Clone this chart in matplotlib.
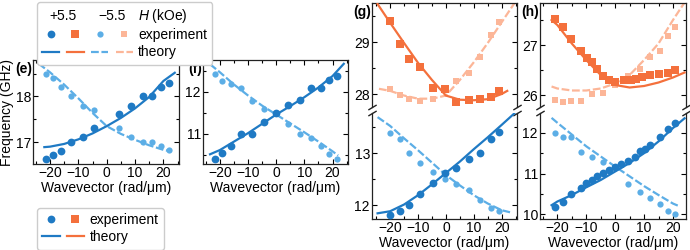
import matplotlib
matplotlib.use("Agg")
import matplotlib.pyplot as plt
from matplotlib.lines import Line2D
from matplotlib.text import Text
from matplotlib.legend_handler import HandlerBase, HandlerTuple
from matplotlib.ticker import MultipleLocator, AutoMinorLocator

plt.rcParams["font.family"] = ["Liberation Sans", "DejaVu Sans"]
plt.rcParams["mathtext.fontset"] = "custom"
plt.rcParams["mathtext.rm"] = "Liberation Sans"
plt.rcParams["mathtext.it"] = "Liberation Sans:italic"
plt.rcParams["font.size"] = 10

# colours
c_blue = "#1f7ac4"
c_lblue = "#5caee6"
c_orng = "#f4703c"
c_lorng = "#fcb698"

# ---- data ----
# panel (e)
e_k = [-21.5, -19.1, -16.1, -12.6, -8.5, -4.4, 4.4, 8.6, 12.7, 16.1, 19.2, 21.8]
e_pos = [16.63, 16.72, 16.81, 17.01, 17.12, 17.31, 17.61, 17.80, 18.00, 18.00, 18.20, 18.29]
e_neg = [18.50, 18.40, 18.20, 18.00, 17.80, 17.71, 17.31, 17.12, 17.01, 17.01, 16.92, 16.82]
e_th_k_pos = [-22, -20, -15, -10, -5, 0, 5, 10, 15, 20, 24]
e_th_pos = [16.89, 16.90, 16.96, 17.06, 17.19, 17.35, 17.53, 17.74, 17.99, 18.34, 18.52]
e_th_k_neg = [-24, -20, -15, -10, -5, 0, 5, 10, 15, 20, 22.5]
e_th_neg = [18.72, 18.53, 18.26, 17.96, 17.64, 17.35, 17.18, 17.05, 16.93, 16.83, 16.80]

# panel (f)
f_k = [-21.6, -19.1, -16.1, -12.6, -8.5, -4.2, 0, 4.2, 8.4, 12.5, 16.0, 18.9, 21.5]
f_pos = [10.42, 10.54, 10.72, 11.00, 11.00, 11.29, 11.50, 11.69, 11.80, 12.08, 12.08, 12.28, 12.38]
f_neg = [12.42, 12.26, 12.18, 12.08, 11.79, 11.59, 11.50, 11.23, 11.00, 10.91, 10.72, 10.52, 10.41]
f_th_k_pos = [-23.5, -20, -15, -10, -5, 0, 5, 10, 15, 20, 24]
f_th_pos = [10.52, 10.62, 10.82, 11.02, 11.24, 11.46, 11.66, 11.87, 12.10, 12.37, 12.66]
f_th_k_neg = [-23.5, -20, -15, -10, -5, 0, 5, 10, 15, 20, 22]
f_th_neg = [12.65, 12.46, 12.17, 11.91, 11.67, 11.46, 11.25, 11.04, 10.82, 10.59, 10.49]

# panel (g)
g_k = [-20, -16.5, -13.1, -9.3, -4.6, -0.3, 3.8, 8.3, 12.2, 16.0, 19.2]
g_pos_hi = [29.40, 28.97, 28.67, 28.51, 28.12, 28.09, 27.84, 27.88, 27.90, 27.94, 28.06]
g_neg_hi = [28.10, 27.99, 27.90, 27.86, 27.91, 28.12, 28.25, 28.41, 28.71, 29.13, 29.38]
g_pos_lo = [11.81, 11.88, 12.00, 12.21, 12.42, 12.61, 12.71, 12.90, 13.01, 13.27, 13.41]
g_neg_lo = [13.39, 13.27, 13.01, 12.82, 12.64, 12.51, 12.40, 12.30, 12.10, 11.95, 11.88]
g_th_k_pos_hi = [-24.5, -20, -15, -10, -5, 0, 5, 10, 15, 20, 22]
g_th_pos_hi = [29.73, 29.37, 28.98, 28.60, 28.27, 27.97, 27.89, 27.88, 27.90, 28.00, 28.06]
g_th_k_neg_hi = [-24, -20, -15, -10, -5, 0, 5, 10, 15, 20, 25]
g_th_neg_hi = [28.10, 28.06, 27.97, 27.91, 27.91, 27.97, 28.27, 28.61, 28.98, 29.38, 29.78]
g_th_k_pos_lo = [-24.5, -20, -15, -10, -5, 0, 5, 10, 15, 20, 24.5]
g_th_pos_lo = [11.84, 11.88, 12.01, 12.19, 12.40, 12.62, 12.84, 13.08, 13.31, 13.55, 13.77]
g_th_k_neg_lo = [-24.5, -20, -15, -10, -5, 0, 5, 10, 15, 20, 23]
g_th_neg_lo = [13.70, 13.53, 13.29, 13.06, 12.82, 12.58, 12.38, 12.19, 12.03, 11.90, 11.86]

# panel (h)
h_k_pos_hi = [-20.7, -18.2, -15.3, -11.9, -9.7, -8.1, -6.2, -4.2, -2.1, -0.2,
              3.1, 5.4, 7.1, 9.3, 12.1, 15.3, 18.3, 20.6]
h_pos_hi = [27.52, 27.37, 27.13, 26.89, 26.75, 26.66, 26.52, 26.38, 26.30, 26.27,
            26.31, 26.30, 26.32, 26.37, 26.40, 26.42, 26.45, 26.50]
h_k_neg_hi = [-20.7, -18.2, -15.3, -11.9, -8.1, -4.2, 0.0, 4.3, 8.5, 12.1, 15.5, 18.3, 20.6]
h_neg_hi = [25.91, 25.87, 25.89, 25.89, 26.03, 26.05, 26.20, 26.38, 26.52, 26.77, 26.89, 27.18, 27.37]
h_k_pos_lo = [-20.7, -18.2, -15.3, -11.9, -10.1, -8.1, -6.2, -4.2, -2.1, -0.2,
              2.0, 4.3, 6.7, 8.5, 10.2, 12.1, 15.5, 18.3, 20.6]
h_pos_lo = [10.17, 10.31, 10.50, 10.64, 10.76, 10.83, 10.94, 11.02, 11.09, 11.17,
            11.24, 11.30, 11.40, 11.55, 11.60, 11.71, 11.89, 12.10, 12.25]
h_k_neg_lo = [-20.7, -18.2, -15.3, -11.9, -8.1, -4.2, 4.3, 8.5, 12.1, 15.5, 18.3, 20.6]
h_neg_lo = [12.00, 11.90, 11.89, 11.53, 11.40, 11.28, 10.74, 10.55, 10.39, 10.25, 10.08, 10.00]
h_th_k = [-22, -20, -15, -10, -5, 0, 5, 10, 15, 20, 24]
h_th_pos_hi = [27.50, 27.40, 27.03, 26.70, 26.40, 26.20, 26.15, 26.18, 26.25, 26.35, 26.45]
h_th_neg_hi = [26.17, 26.13, 26.09, 26.09, 26.13, 26.23, 26.40, 26.70, 27.03, 27.50, 27.85]
h_th_pos_lo = [10.22, 10.31, 10.47, 10.66, 10.84, 11.05, 11.26, 11.50, 11.79, 12.12, 12.36]
h_th_k_neg_lo = [-22, -20, -15, -10, -5, 0, 5, 10, 15, 20, 22]
h_th_neg_lo = [12.37, 12.25, 11.96, 11.67, 11.42, 11.17, 10.93, 10.69, 10.47, 10.26, 10.20]

W, H = 690, 250
LW = 1.6
DASH = (3.5, 1.2)
MS_BIG, MS_SMALL = 5.6, 4.5


def px_axes(fig, x0, y0, x1, y1):
    return fig.add_axes([x0 / W, 1 - y1 / H, (x1 - x0) / W, (y1 - y0) / H])


def style(ax, xlim, ylim):
    ax.set_xlim(*xlim)
    ax.set_ylim(*ylim)
    ax.xaxis.set_major_locator(MultipleLocator(10))
    ax.xaxis.set_minor_locator(MultipleLocator(5))
    ax.yaxis.set_major_locator(MultipleLocator(1))
    ax.yaxis.set_minor_locator(AutoMinorLocator(2))
    ax.tick_params(which="both", direction="in", top=True, right=True,
                   labelsize=10, width=0.8, pad=1.5)
    ax.tick_params(which="major", length=3.5)
    ax.tick_params(which="minor", length=2)
    for s in ax.spines.values():
        s.set_linewidth(0.9)
        s.set_color("#222222")


def draw(ax, kp, yp, kn, yn, tkp, typ, tkn, tyn, cp, cn, marker):
    ax.plot(tkn, tyn, color=cn, lw=LW, dashes=DASH, zorder=2)
    ax.plot(kn, yn, ls="none", marker=marker, ms=MS_SMALL, color=cn, mew=0, zorder=3)
    ax.plot(tkp, typ, color=cp, lw=LW, zorder=4)
    ax.plot(kp, yp, ls="none", marker=marker, ms=MS_BIG, color=cp, mew=0, zorder=5)


def panel_label(ax, s):
    ax.annotate(s, xy=(0, 1), xycoords="axes fraction", xytext=(-0.5, -1.5),
                textcoords="offset points", ha="right", va="top",
                fontsize=10, fontweight="bold")


def break_marks(ax_top, ax_bot):
    ax_top.spines["bottom"].set_visible(False)
    ax_bot.spines["top"].set_visible(False)
    ax_top.tick_params(which="both", bottom=False, labelbottom=False)
    ax_bot.tick_params(which="both", top=False)
    kw = dict(marker=[(-1, -0.6), (1, 0.6)], markersize=6, linestyle="none",
              color="#222222", mec="#222222", mew=1, clip_on=False)
    ax_top.plot([0, 1], [0, 0], transform=ax_top.transAxes, **kw)
    ax_bot.plot([0, 1], [1, 1], transform=ax_bot.transAxes, **kw)


fig = plt.figure(figsize=(W / 100, H / 100), dpi=100)

# (e)
ax_e = px_axes(fig, 33, 60, 179, 164)
draw(ax_e, e_k, e_pos, e_k, e_neg, e_th_k_pos, e_th_pos, e_th_k_neg, e_th_neg,
     c_blue, c_lblue, "o")
style(ax_e, (-26, 25.5), (16.52, 18.8))
ax_e.set_ylabel("Frequency (GHz)")
ax_e.yaxis.set_label_coords(-0.128, 0.5)
ax_e.set_xlabel("Wavevector (rad/\u03bcm)", labelpad=1)
panel_label(ax_e, "(e)")

# (f)
ax_f = px_axes(fig, 203, 60, 348, 164)
draw(ax_f, f_k, f_pos, f_k, f_neg, f_th_k_pos, f_th_pos, f_th_k_neg, f_th_neg,
     c_blue, c_lblue, "o")
style(ax_f, (-26, 25.5), (10.29, 12.75))
ax_f.set_xlabel("Wavevector (rad/\u03bcm)", labelpad=1)
panel_label(ax_f, "(f)")

# (g)
ax_gt = px_axes(fig, 372, 3, 517, 107)
ax_gb = px_axes(fig, 372, 113, 517, 219)
draw(ax_gt, g_k, g_pos_hi, g_k, g_neg_hi, g_th_k_pos_hi, g_th_pos_hi,
     g_th_k_neg_hi, g_th_neg_hi, c_orng, c_lorng, "s")
draw(ax_gb, g_k, g_pos_lo, g_k, g_neg_lo, g_th_k_pos_lo, g_th_pos_lo,
     g_th_k_neg_lo, g_th_neg_lo, c_blue, c_lblue, "o")
style(ax_gt, (-26.5, 25.5), (27.75, 29.75))
style(ax_gb, (-26.5, 25.5), (11.73, 13.78))
break_marks(ax_gt, ax_gb)
ax_gb.set_xlabel("Wavevector (rad/\u03bcm)", labelpad=1)
panel_label(ax_gt, "(g)")

# (h)
ax_ht = px_axes(fig, 540, 3, 686, 107)
ax_hb = px_axes(fig, 540, 113, 686, 219)
draw(ax_ht, h_k_pos_hi, h_pos_hi, h_k_neg_hi, h_neg_hi, h_th_k, h_th_pos_hi,
     h_th_k, h_th_neg_hi, c_orng, c_lorng, "s")
draw(ax_hb, h_k_pos_lo, h_pos_lo, h_k_neg_lo, h_neg_lo, h_th_k, h_th_pos_lo,
     h_th_k_neg_lo, h_th_neg_lo, c_blue, c_lblue, "o")
style(ax_ht, (-26, 24.5), (25.76, 27.84))
style(ax_hb, (-26, 24.5), (9.88, 12.49))
break_marks(ax_ht, ax_hb)
ax_hb.set_xlabel("Wavevector (rad/\u03bcm)", labelpad=1)
panel_label(ax_ht, "(h)")


# ---- legends ----
class HeaderRow:
    def __init__(self, labels):
        self.labels = labels


class HandlerHeader(HandlerBase):
    def __init__(self, pad):
        super().__init__()
        self.pad = pad

    def create_artists(self, legend, orig_handle, xdescent, ydescent,
                       width, height, fontsize, trans):
        n = 2 * len(orig_handle.labels)
        pad = self.pad * fontsize
        seg = (width - pad * (n - 1)) / n
        out = []
        for i, lab in enumerate(orig_handle.labels):
            xc = -xdescent + 2 * i * (seg + pad) + seg + pad / 2
            out.append(Text(xc, -ydescent, lab, ha="center", va="baseline",
                            fontsize=fontsize, transform=trans))
        return out


def mk(marker, color, ms):
    return Line2D([], [], ls="none", marker=marker, ms=ms, color=color, mew=0)


def ln(color, dashed=False):
    l = Line2D([], [], color=color, lw=LW)
    if dashed:
        l.set_dashes(DASH)
    return l


PAD = 0.55
leg_kw = dict(loc="upper left", borderaxespad=0, numpoints=1, fontsize=10,
              frameon=True, fancybox=True, edgecolor="#cccccc", framealpha=1,
              handletextpad=0.4, borderpad=0.38, labelspacing=0.22)

h_exp = (mk("o", c_blue, MS_BIG), mk("s", c_orng, MS_BIG),
         mk("o", c_lblue, MS_SMALL), mk("s", c_lorng, MS_SMALL))
h_th = (ln(c_blue), ln(c_orng), ln(c_lblue, True), ln(c_lorng, True))
leg1 = fig.legend([HeaderRow(["+5.5", "\u22125.5"]), h_exp, h_th],
                  ["$H$ (kOe)", "experiment", "theory"],
                  handler_map={HeaderRow: HandlerHeader(PAD),
                               tuple: HandlerTuple(ndivide=None, pad=PAD)},
                  bbox_to_anchor=(37 / W, 1 - 2 / H), handlelength=6.5, **leg_kw)
leg1.get_frame().set_linewidth(1.0)

h_exp2 = (mk("o", c_blue, MS_BIG), mk("s", c_orng, MS_BIG))
h_th2 = (ln(c_blue), ln(c_orng))
leg2 = fig.legend([h_exp2, h_th2], ["experiment", "theory"],
                  handler_map={tuple: HandlerTuple(ndivide=None, pad=0.5)},
                  bbox_to_anchor=(37 / W, 1 - 208 / H), handlelength=3.0, **leg_kw)
leg2.get_frame().set_linewidth(1.0)

fig.savefig("out.png", dpi=100)
